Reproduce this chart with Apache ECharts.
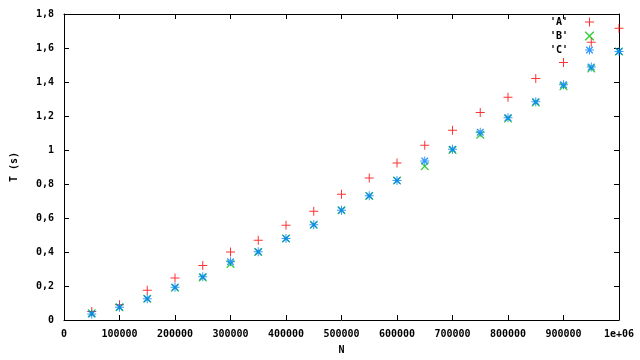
<!DOCTYPE html>
<html><head><meta charset="utf-8">
<script src="https://cdn.jsdelivr.net/npm/echarts@6/dist/echarts.min.js"></script>
<style>html,body{margin:0;padding:0;background:#fff}#c{width:640px;height:360px}</style>
</head><body><div id="c"></div>
<script>
const N = [50000,100000,150000,200000,250000,300000,350000,400000,450000,500000,550000,600000,650000,700000,750000,800000,850000,900000,950000,1000000];
const A = [0.05,0.09,0.175,0.247,0.32,0.40,0.469,0.557,0.639,0.739,0.835,0.924,1.028,1.116,1.22,1.31,1.42,1.515,1.634,1.716];
const B = [0.04,0.075,0.125,0.19,0.25,0.33,0.40,0.48,0.56,0.645,0.73,0.82,0.905,1.0,1.09,1.185,1.28,1.375,1.48,1.58];
const C = [0.035,0.075,0.125,0.192,0.255,0.343,0.402,0.48,0.56,0.645,0.731,0.82,0.935,1.004,1.104,1.19,1.284,1.384,1.488,1.58];
const seriesNames = ["'A'", "'B'", "'C'"];
const xTicks = {min:0, max:1000000, interval:100000};
const yTicks = {min:0, max:1.8, interval:0.2};

const PLUS = 'path://M4,0h1v9h-1zM0,4h9v1h-9z';
const CROSS = 'path://M0,0L1,0L9,8L9,9L8,9L0,1ZM8,0L9,0L9,1L1,9L0,9L0,8Z';
const STAR = 'path://M4,0h1v9h-1zM0,4h9v1h-9zM1,1L2,1L8,7L8,8L7,8L1,2ZM7,1L8,1L8,2L2,8L1,8L1,7Z';

const font = {fontFamily:'DejaVu Sans Mono', fontWeight:'bold', fontSize:10, color:'#000'};
const pairs = arr => N.map((n,i)=>[n, arr[i]]);

const axisCommon = {
  type:'value',
  axisLine:{show:true, onZero:false, lineStyle:{color:'#000', width:1}},
  axisTick:{show:true, inside:true, length:5, lineStyle:{color:'#000'}},
  splitLine:{show:false}
};
const chart = echarts.init(document.getElementById('c'), null, {renderer:'canvas'});
chart.setOption({
  animation:false,
  backgroundColor:'#fff',
  grid:{left:64, right:21, top:14, bottom:40, containLabel:false},
  legend:{
    orient:'vertical', right:46, top:17, padding:0,
    itemWidth:9, itemHeight:9, itemGap:4, align:'right',
    formatter: name => name + '  ',
    textStyle:font, data:seriesNames
  },
  xAxis:[
    Object.assign({}, axisCommon, xTicks, {position:'bottom',
      axisLabel:Object.assign({margin:9, formatter:v=> v===1000000?'1e+06':String(v)}, font),
      name:'N', nameLocation:'middle', nameGap:25, nameTextStyle:font}),
    Object.assign({}, axisCommon, xTicks, {position:'top', axisLabel:{show:false}})
  ],
  yAxis:[
    Object.assign({}, axisCommon, yTicks, {position:'left',
      axisLabel:Object.assign({margin:10, formatter:v=> String(Math.round(v*10)/10).replace('.',',')}, font),
      name:'T (s)', nameLocation:'middle', nameGap:45, nameTextStyle:font}),
    Object.assign({}, axisCommon, yTicks, {position:'right', axisLabel:{show:false}})
  ],
  series:[
    {name:seriesNames[0], type:'scatter', data:pairs(A), symbol:PLUS, symbolSize:9, itemStyle:{color:'#ff0000'}},
    {name:seriesNames[1], type:'scatter', data:pairs(B), symbol:CROSS, symbolSize:8, itemStyle:{color:'#00c000'}},
    {name:seriesNames[2], type:'scatter', data:pairs(C), symbol:STAR, symbolSize:9, itemStyle:{color:'#0080ff'}}
  ]
});
</script></body></html>
